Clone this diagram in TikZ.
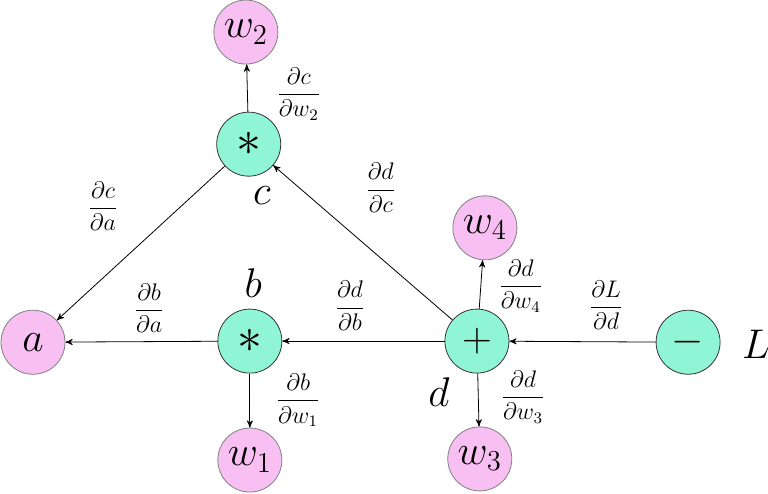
\documentclass[tikz,border=0pt]{standalone}
\usepackage{amsmath,amssymb}
\usepackage{xcolor}
\usetikzlibrary{arrows,positioning}
\definecolor{opgreen}{HTML}{90F5D5}
\definecolor{varpink}{HTML}{F8C0F2}
\begin{document}
\begin{tikzpicture}[->,>=stealth',thin,
    op/.style={circle,draw=black!80,fill=opgreen,minimum size=1.125cm,inner sep=0pt,font=\huge},
    var/.style={circle,draw=black!50,fill=varpink,minimum size=1.125cm,inner sep=0pt,font=\huge},
    tag/.style={inner sep=0pt,font=\huge},
    grad/.style={inner sep=0pt,font=\large}]

    \useasboundingbox (0,0) rectangle (13.494,8.663);

    % The graph
    \node [var] at (0.58,2.65) (a) {$a$};
    \node [op,font=\Huge] at (4.39,2.67) (b) {$*$};
    \node [op,font=\Huge] at (4.37,6.13) (c) {$*$};
    \node [op] at (8.38,2.67) (d) {$+$};
    \node [op] at (12.09,2.65) (L) {$-$};

    \node [var] at (4.32,8.10) (w2) {$w_2$};
    \node [var] at (4.39,0.58) (w1) {$w_1$};
    \node [var] at (8.52,4.66) (w4) {$w_4$};
    \node [var] at (8.43,0.60) (w3) {$w_3$};

    % Node names
    \node [tag] at (4.60,5.22) (cname) {$c$};
    \node [tag] at (4.45,3.69) (bname) {$b$};
    \node [tag] at (7.71,1.77) (dname) {$d$};
    \node [tag] at (13.28,2.62) (Lname) {$L$};

    % Gradients
    \node [grad] at (5.25,7.01) (gcw2) {$\dfrac{\partial c}{\partial w_2}$};
    \node [grad] at (1.81,5.04) (gca) {$\dfrac{\partial c}{\partial a}$};
    \node [grad] at (2.62,3.25) (gba) {$\dfrac{\partial b}{\partial a}$};
    \node [grad] at (5.24,1.63) (gbw1) {$\dfrac{\partial b}{\partial w_1}$};
    \node [grad] at (6.69,5.36) (gdc) {$\dfrac{\partial d}{\partial c}$};
    \node [grad] at (6.15,3.29) (gdb) {$\dfrac{\partial d}{\partial b}$};
    \node [grad] at (9.15,3.64) (gdw4) {$\dfrac{\partial d}{\partial w_4}$};
    \node [grad] at (10.65,3.30) (gLd) {$\dfrac{\partial L}{\partial d}$};
    \node [grad] at (9.19,1.69) (gdw3) {$\dfrac{\partial d}{\partial w_3}$};

    % Graph edges
    \path[->]
    (L) edge (d)
    (d) edge (b)
    (d) edge (c)
    (d) edge (w4)
    (d) edge (w3);

    \path[->]
    (c) edge (w2)
    (c) edge (a)
    (b) edge (a)
    (b) edge (w1);

\end{tikzpicture}
\end{document}
